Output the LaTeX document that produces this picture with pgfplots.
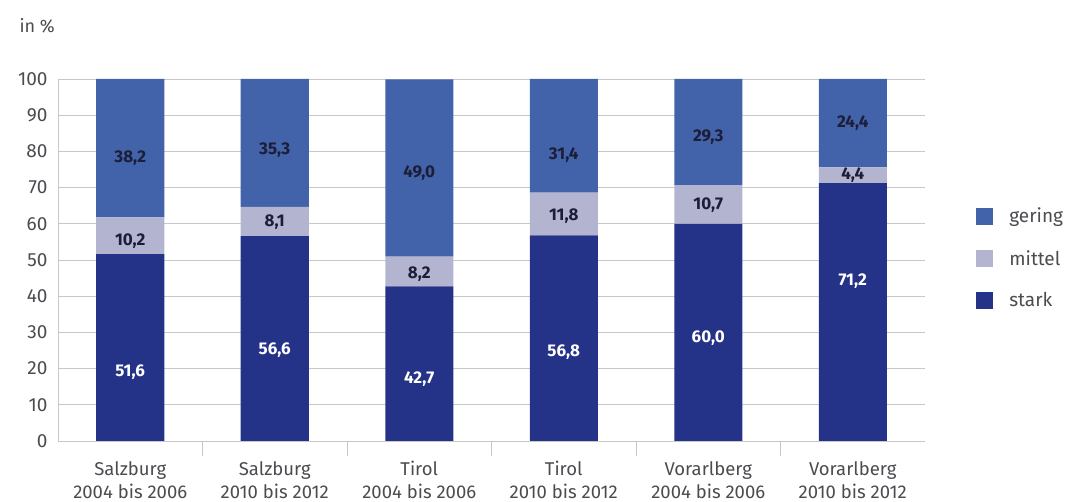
\documentclass[border=0pt]{standalone}
\usepackage{pgfplots}
\pgfplotsset{compat=1.18}
\usepackage{fontspec}
\setmainfont{Fira Sans}
\definecolor{gering}{RGB}{66,98,170}
\definecolor{mittel}{RGB}{178,180,208}
\definecolor{stark}{RGB}{36,50,136}
\definecolor{txt}{RGB}{75,75,80}
\definecolor{gridc}{RGB}{200,200,200}
\definecolor{lab}{RGB}{28,30,55}
\pgfplotsset{base/.style={
  at={(58pt,61pt)}, anchor=south west, scale only axis,
  width=867pt, height=362pt,
  xmin=-0.5, xmax=5.5, ymin=0, ymax=100}}
\pgfplotstableread{
x stark mittel gering
0 51.6 10.2 38.2
1 56.6 8.1 35.3
2 42.7 8.2 49.0
3 56.8 11.8 31.4
4 60.0 10.7 29.3
5 71.2 4.4 24.4
}\data
\pgfplotstableread{
x y l
0 19.1 51,6
1 25.1 56,6
2 17.0 42,7
3 24.6 56,8
4 28.5 60,0
5 44.2 71,2
}\labwhite
\pgfplotstableread{
x y l
0 55.3 10,2
1 60.5 8,1
2 46.0 8,2
3 62.0 11,8
4 65.2 10,7
5 73.4 4,4
0 78.2 38,2
1 80.4 35,3
2 74.0 49,0
3 79.0 31,4
4 84.0 29,3
5 87.8 24,4
}\labdark
\begin{document}
\begin{tikzpicture}
\useasboundingbox (0,0) rectangle (1069pt,502pt);
\node[anchor=west, text=txt, font=\fontsize{18}{22}\selectfont] at (16pt,476pt) {in \%};
\begin{axis}[base,
  ybar stacked, bar width=68pt,
  ytick={0,10,...,100},
  ymajorgrids, grid style={gridc, line width=0.8pt},
  axis x line*=bottom, axis y line*=left,
  axis line style={gridc, line width=0.8pt},
  /pgf/number format/assume math mode=true,
  major tick length=0pt,
  y tick label style={font=\fontsize{19}{22}\selectfont, text=txt, xshift=-7pt},
  xtick={0,...,5},
  xticklabels={{Salzburg\\2004 bis 2006},{Salzburg\\2010 bis 2012},{Tirol\\2004 bis 2006},{Tirol\\2010 bis 2012},{Vorarlberg\\2004 bis 2006},{Vorarlberg\\2010 bis 2012}},
  x tick label style={align=center, font=\fontsize{18.5}{23}\selectfont, text=txt, yshift=-17pt},
  extra x ticks={0.5,1.5,2.5,3.5,4.5},
  extra x tick labels={},
  extra x tick style={major tick length=15pt, tick align=outside, tick style={gridc, line width=0.8pt}},
  reverse legend,
  legend cell align=left,
  legend style={at={(1.059,0.505)}, anchor=west, draw=none, fill=none,
    font=\fontsize{19}{22}\selectfont, text=txt, row sep=22pt, inner sep=0pt,
    /tikz/every odd column/.style={column sep=14pt}},
]
\addplot[fill=stark, draw=none, legend image code/.code={\fill[stark] (0pt,-8.5pt) rectangle (17pt,8.5pt);}] table[x=x,y=stark]{\data};
\addplot[fill=mittel, draw=none, legend image code/.code={\fill[mittel] (0pt,-8.5pt) rectangle (17pt,8.5pt);}] table[x=x,y=mittel]{\data};
\addplot[fill=gering, draw=none, legend image code/.code={\fill[gering] (0pt,-8.5pt) rectangle (17pt,8.5pt);}] table[x=x,y=gering]{\data};
\legend{stark,mittel,gering}
\end{axis}
\begin{axis}[base, hide axis]
\addplot[only marks, mark=none, nodes near coords, point meta=explicit symbolic,
  nodes near coords style={anchor=center, font=\bfseries\fontsize{17}{20}\selectfont, text=white}]
  table[x=x,y=y,meta=l]{\labwhite};
\addplot[only marks, mark=none, nodes near coords, point meta=explicit symbolic,
  nodes near coords style={anchor=center, font=\bfseries\fontsize{17}{20}\selectfont, text=lab}]
  table[x=x,y=y,meta=l]{\labdark};
\end{axis}
\end{tikzpicture}
\end{document}
